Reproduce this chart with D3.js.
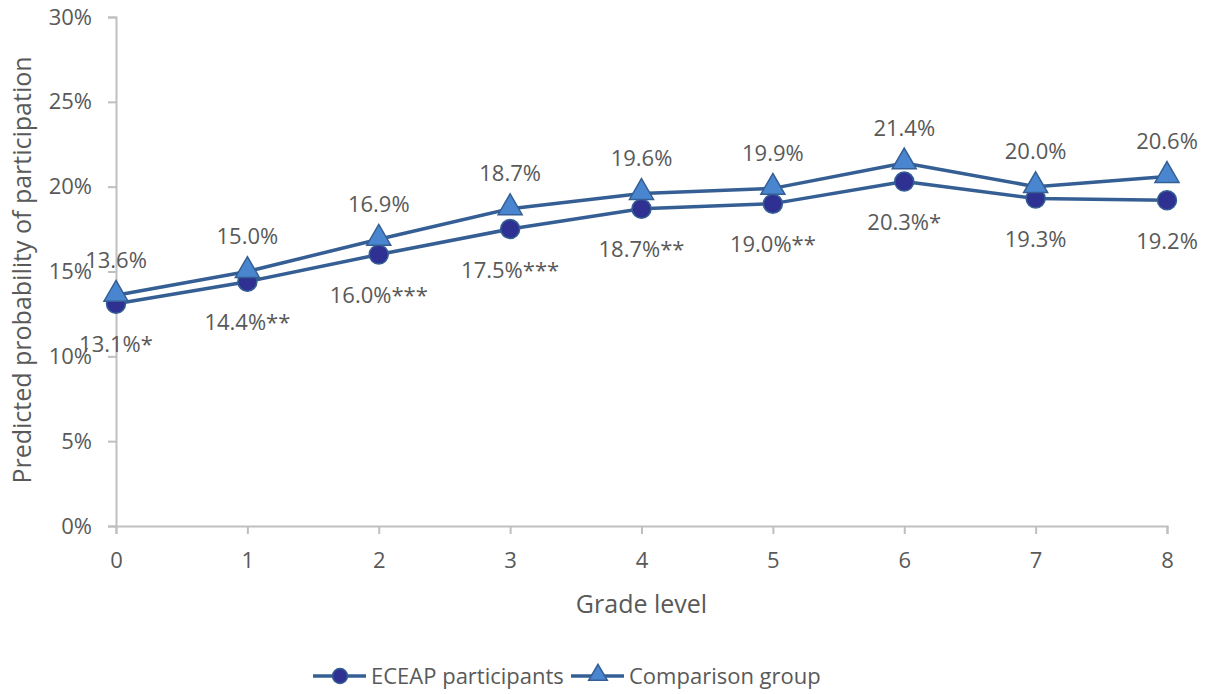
<!DOCTYPE html>
<html>
<head>
<meta charset="utf-8">
<script src="https://cdn.jsdelivr.net/npm/d3@7"></script>
<style>
  html, body { margin: 0; padding: 0; background: #fff; }
  svg { display: block; }
  text { font-family: "Open Sans", "Noto Sans", sans-serif; fill: #595959; }
</style>
</head>
<body>
<svg id="chart" width="1208" height="694"></svg>
<script>
// Grade levels on the x axis
const grades = [0, 1, 2, 3, 4, 5, 6, 7, 8];
// Predicted probability of participation (percent)
const eceapValues = [13.1, 14.4, 16.0, 17.5, 18.7, 19.0, 20.3, 19.3, 19.2];
const comparisonValues = [13.6, 15.0, 16.9, 18.7, 19.6, 19.9, 21.4, 20.0, 20.6];
// Significance markers appended to ECEAP labels
const eceapStars = ["*", "**", "***", "***", "**", "**", "*", "", ""];
const yTicks = [0, 5, 10, 15, 20, 25, 30];
const seriesNames = ["ECEAP participants", "Comparison group"];

const lineColor = "#355F94";
const circleFill = "#2E3192";
const triFill = "#4A86D0";
const axisColor = "#BFBFBF";

const svg = d3.select("#chart");
const m = { left: 116, right: 1167, top: 17, bottom: 526 };

const x = d3.scaleLinear().domain([0, 8]).range([m.left, m.right]);
const y = d3.scaleLinear().domain([0, 30]).range([m.bottom, m.top]);

// Y axis
const yAxis = d3.axisLeft(y).tickValues(yTicks).tickSize(8).tickPadding(16)
  .tickFormat(d => d + "%");
const gy = svg.append("g").attr("transform", `translate(${m.left},0)`).call(yAxis);
gy.select(".domain").attr("stroke", axisColor).attr("stroke-width", 2);
gy.selectAll(".tick line").attr("stroke", axisColor).attr("stroke-width", 2);
gy.selectAll(".tick text").style("font-size", "22px").attr("fill", "#595959")
  .style("font-family", '"Open Sans", sans-serif');

// X axis
const xAxis = d3.axisBottom(x).tickValues(grades).tickSize(8).tickPadding(18)
  .tickFormat(d => d);
const gx = svg.append("g").attr("transform", `translate(0,${m.bottom})`).call(xAxis);
gx.select(".domain").attr("stroke", axisColor).attr("stroke-width", 2);
gx.selectAll(".tick line").attr("stroke", axisColor).attr("stroke-width", 2);
gx.selectAll(".tick text").style("font-size", "22px").attr("fill", "#595959")
  .style("font-family", '"Open Sans", sans-serif');

// Axis titles
svg.append("text").attr("x", (m.left + m.right) / 2).attr("y", 613)
  .attr("text-anchor", "middle").style("font-size", "25px").text("Grade level");
svg.append("text").attr("transform", `translate(31,270) rotate(-90)`)
  .attr("text-anchor", "middle").style("font-size", "25px")
  .text("Predicted probability of participation");

// Lines
const line = d3.line().x((d, i) => x(grades[i])).y(d => y(d));
[eceapValues, comparisonValues].forEach(vals => {
  svg.append("path").datum(vals).attr("d", line)
    .attr("fill", "none").attr("stroke", lineColor).attr("stroke-width", 3.5)
    .attr("stroke-linejoin", "round");
});

const triangle = d3.symbol().type(d3.symbolTriangle).size(250);

// ECEAP markers
svg.append("g").selectAll("circle").data(eceapValues).join("circle")
  .attr("cx", (d, i) => x(grades[i])).attr("cy", d => y(d)).attr("r", 9.5)
  .attr("fill", circleFill).attr("stroke", lineColor).attr("stroke-width", 1.5);

// Comparison markers
svg.append("g").selectAll("path").data(comparisonValues).join("path")
  .attr("d", triangle)
  .attr("transform", (d, i) => `translate(${x(grades[i])},${y(d) - 1})`)
  .attr("fill", triFill).attr("stroke", lineColor).attr("stroke-width", 1.5);

// Data labels
svg.append("g").selectAll("text").data(comparisonValues).join("text")
  .attr("x", (d, i) => x(grades[i])).attr("y", d => y(d) - 35)
  .attr("dy", "0.35em").attr("text-anchor", "middle").style("font-size", "22px")
  .text(d => d.toFixed(1) + "%");
svg.append("g").selectAll("text").data(eceapValues).join("text")
  .attr("x", (d, i) => x(grades[i])).attr("y", d => y(d) + 41)
  .attr("dy", "0.35em").attr("text-anchor", "middle").style("font-size", "22px")
  .text((d, i) => d.toFixed(1) + "%" + eceapStars[i]);

// Legend
const lg = svg.append("g");
const items = [
  { name: seriesNames[0], x0: 313, type: "circle" },
  { name: seriesNames[1], x0: 571, type: "triangle" }
];
items.forEach(it => {
  const ly = 676;
  lg.append("line").attr("x1", it.x0).attr("x2", it.x0 + 53).attr("y1", ly).attr("y2", ly)
    .attr("stroke", lineColor).attr("stroke-width", 3.5);
  if (it.type === "circle") {
    lg.append("circle").attr("cx", it.x0 + 27).attr("cy", ly).attr("r", 7.5)
      .attr("fill", circleFill).attr("stroke", lineColor).attr("stroke-width", 1.5);
  } else {
    lg.append("path").attr("d", d3.symbol().type(d3.symbolTriangle).size(150))
      .attr("transform", `translate(${it.x0 + 27},${ly - 1})`)
      .attr("fill", triFill).attr("stroke", lineColor).attr("stroke-width", 1.5);
  }
  lg.append("text").attr("x", it.x0 + 58).attr("y", ly).attr("dy", "0.35em")
    .style("font-size", "22px").text(it.name);
});
</script>
</body>
</html>
